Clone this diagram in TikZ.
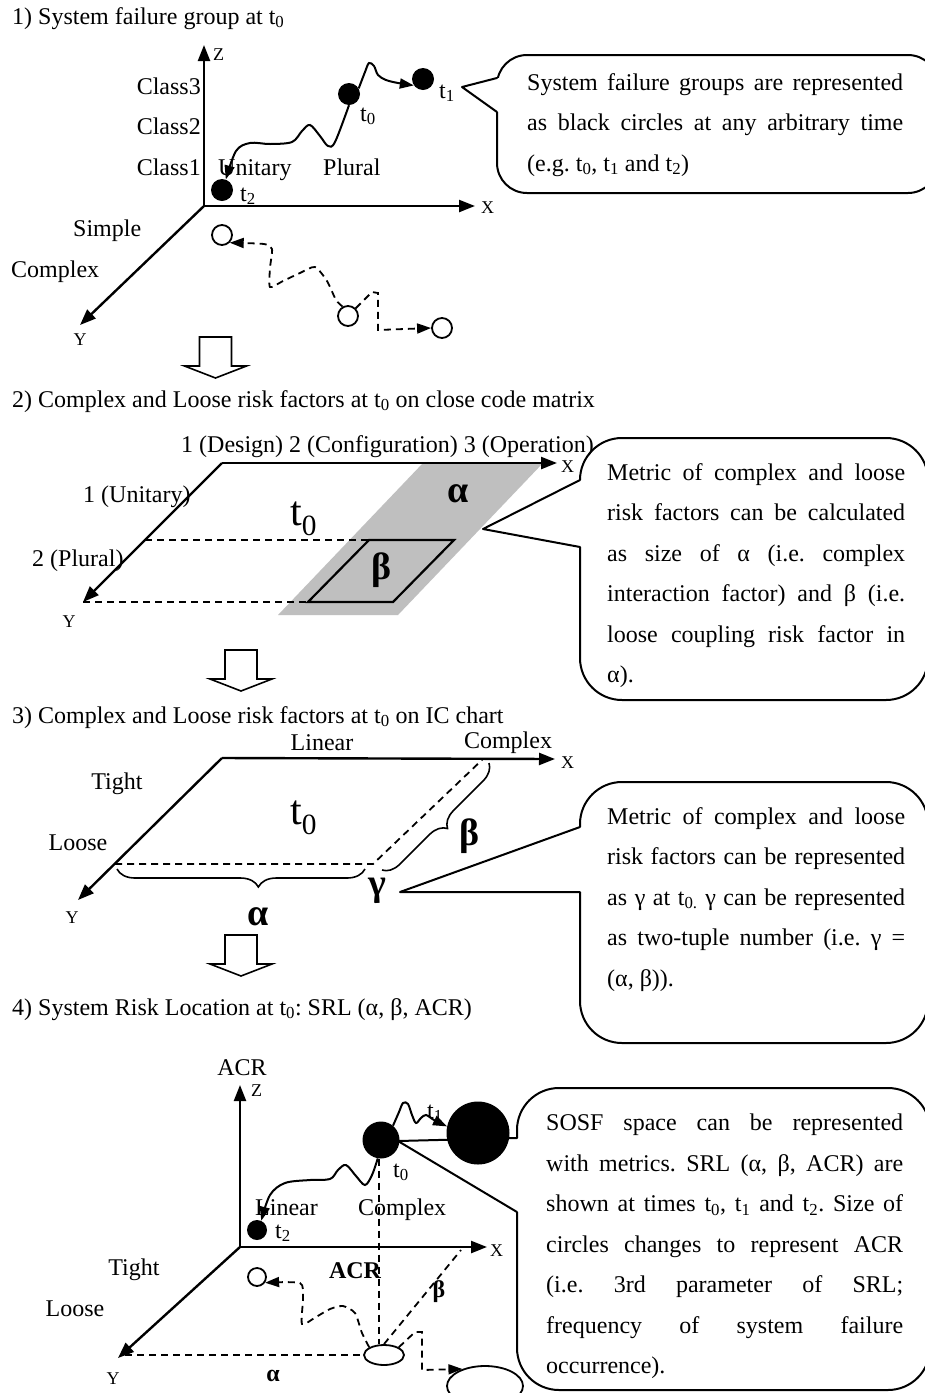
\documentclass[tikz,border=0pt]{standalone}
\usepackage{fontspec}
\setmainfont{Liberation Serif}
\usetikzlibrary{shapes.geometric, arrows.meta, decorations.pathreplacing}

\newcommand{\fitline}[2]{\makebox[#1][s]{#2}}
\frenchspacing

\begin{document}
\begin{tikzpicture}[
    x=1pt, y=-1pt,
    lbl/.style={font=\fontsize{24}{29}\selectfont, inner sep=0pt},
    axlbl/.style={font=\fontsize{18}{22}\selectfont, inner sep=0pt},
    bigt/.style={font=\fontsize{42}{50}\selectfont, inner sep=0pt},
    greek/.style={font=\fontsize{38}{44}\selectfont\bfseries, inner sep=0pt},
    smallgreek/.style={font=\fontsize{24}{29}\selectfont\bfseries, inner sep=0pt},
    note/.style={font=\fontsize{24}{40.5}\selectfont, inner sep=0pt, align=left, anchor=north west},
    callout/.style={draw, line width=2pt, fill=white, rounded corners=42pt, inner sep=0pt},
    pointer/.style={line width=2pt, line cap=round, line join=round},
    axis/.style={line width=2.4pt, -{Triangle[length=16pt,width=12pt]}},
    edge/.style={line width=2.2pt},
    dline/.style={line width=1.8pt, dash pattern=on 7pt off 5pt},
    wave/.style={line width=2pt, -{Triangle[length=14pt,width=10pt]}},
    dwave/.style={dline, -{Triangle[length=14pt,width=10pt]}},
    curly/.style={decorate, line width=1.6pt},
    blob/.style={circle, fill=black, inner sep=0pt},
    hollow/.style={circle, draw, fill=white, line width=1.8pt, inner sep=0pt},
    shadow/.style={ellipse, draw, fill=white, line width=1.8pt, inner sep=0pt},
    pics/downarrow/.style={code={
        \draw[line width=1.6pt, fill=white] (-16,0) -- (16,0) -- (16,29) -- (31,29)
            -- (0,41) -- (-31,29) -- (-16,29) -- cycle;}}
]
    \useasboundingbox (0,0) rectangle (925,1393);
    \fill[white] (0,0) rectangle (925,1393);
    \clip (0,0) rectangle (925,1393);

    % Callout boxes
    \node[callout, rounded corners=30pt, minimum width=441pt, minimum height=138pt] (c1) at (717.5,124) {};
    \node[callout, minimum width=348pt, minimum height=262pt] (c2) at (754,569) {};
    \node[callout, minimum width=348pt, minimum height=261pt] (c3) at (754,912.5) {};
    \node[callout, minimum width=413pt, minimum height=302pt] (c4) at (723.5,1239) {};

    % Callout pointers
    \coordinate (c1tip) at (462,87);  \coordinate (c1a) at (497,78);   \coordinate (c1b) at (497,112);
    \coordinate (c2tip) at (483,529); \coordinate (c2a) at (580,480);  \coordinate (c2b) at (580,547);
    \coordinate (c3tip) at (400,892); \coordinate (c3a) at (580,827);  \coordinate (c3b) at (580,892);
    \coordinate (c4tip) at (398,1141); \coordinate (c4a) at (517,1138); \coordinate (c4b) at (517,1212);
    \foreach \c in {c1,c2,c3,c4} {
        \fill[white] ([xshift=-1.4pt]\c a) rectangle ([xshift=4pt]\c b);
        \draw[pointer] (\c a) -- (\c tip) -- (\c b);
    }

    % Callout texts
    \node[note] (c1text) at (527,73) {\fitline{376pt}{System failure groups are represented}\\
        \fitline{376pt}{as black circles at any arbitrary time}\\
        (e.g. t\textsubscript{0}, t\textsubscript{1} and t\textsubscript{2})};
    \node[note] (c2text) at (607,463) {\fitline{298pt}{Metric of complex and loose}\\
        \fitline{298pt}{risk factors can be calculated}\\
        \fitline{298pt}{as size of α (i.e. complex}\\
        \fitline{298pt}{interaction factor) and β (i.e.}\\
        \fitline{298pt}{loose coupling risk factor in}\\
        α).};
    \node[note] (c3text) at (607,807) {\fitline{298pt}{Metric of complex and loose}\\
        \fitline{298pt}{risk factors can be represented}\\
        \fitline{298pt}{as γ at t\textsubscript{0.} γ can be represented}\\
        \fitline{298pt}{as two-tuple number (i.e. γ =}\\
        (α, β)).};
    \node[note] (c4text) at (546,1114) {\fitline{357pt}{SOSF space can be represented}\\
        \fitline{357pt}{with metrics. SRL (α, β, ACR) are}\\
        \fitline{357pt}{shown at times t\textsubscript{0}, t\textsubscript{1} and t\textsubscript{2}. Size of}\\
        \fitline{357pt}{circles changes to represent ACR}\\
        \fitline{357pt}{(i.e. 3rd parameter of SRL;}\\
        \fitline{357pt}{frequency of system failure}\\
        occurrence).};

    % ---- 1) System failure group
    \node[lbl, anchor=base west] (title1) at (12,24) {1) System failure group at t\textsubscript{0}};
    \coordinate (o1) at (204,206);
    \coordinate (z1) at (204,45);
    \coordinate (x1) at (475,206);
    \coordinate (y1) at (80,325);
    \draw[axis] (o1) -- (z1);
    \draw[axis] (o1) -- (x1);
    \draw[axis] (o1) -- (y1);
    \node[axlbl, anchor=base west] at (213,60) {Z};
    \node[axlbl, anchor=base west] at (481,213) {X};
    \node[axlbl, anchor=base] at (80,345) {Y};
    \node[lbl, anchor=base east] at (201,94) {Class3};
    \node[lbl, anchor=base east] at (201,134) {Class2};
    \node[lbl, anchor=base east] at (201,175) {Class1};
    \node[lbl, anchor=base west] at (218,175) {Unitary};
    \node[lbl, anchor=base west] at (323,175) {Plural};
    \node[lbl, anchor=base west] at (73,236) {Simple};
    \node[lbl, anchor=base west] at (11,277) {Complex};

    \node[blob, minimum size=22pt] (p1t2) at (222,190) {};
    \node[blob, minimum size=22pt] (p1t0) at (349,94) {};
    \node[blob, minimum size=22pt] (p1t1) at (423,79) {};
    \node[lbl, anchor=base west] at (240,201) {t\textsubscript{2}};
    \node[lbl, anchor=base west] at (360,121) {t\textsubscript{0}};
    \node[lbl, anchor=base west] at (439,98) {t\textsubscript{1}};
    \draw[wave] plot[smooth, tension=0.55] coordinates {(p1t0.south) (335,142) (328,146) (320,136)
        (310,125) (302,131) (292,142) (270,144) (250,143) (236,151) (p1t2.70)};
    \draw[wave] plot[smooth, tension=0.55] coordinates {(p1t0.30) (365,72) (369,63) (374,66)
        (378,75) (386,80) (398,83) (p1t1.215)};

    \node[hollow, minimum size=20pt] (s1a) at (222,235) {};
    \node[hollow, minimum size=20pt] (s1b) at (348,316) {};
    \node[hollow, minimum size=20pt] (s1c) at (442,328) {};
    \draw[dwave] plot[smooth, tension=0.4] coordinates {(s1b.120) (336,300) (327,281) (315,267)
        (300,273) (283,281) (270,287) (270,268) (272,249) (264,244) (s1a.-45)};
    \draw[dwave] (s1b.45) -- (372,292) -- (378,293) -- (378,330) -- (s1c.west);

    \pic at (215.5,337) {downarrow};

    % ---- 2) close code matrix
    \node[lbl, anchor=base west] (title2) at (12,407) {2) Complex and Loose risk factors at t\textsubscript{0} on close code matrix};
    \coordinate (p2) at (222,463);
    \coordinate (x2) at (557,463);
    \coordinate (y2) at (83,602);
    \coordinate (bt1) at (369,540);
    \coordinate (bt2) at (454,540);
    \coordinate (bb2) at (393,602);
    \coordinate (bb1) at (308,602);
    \fill[black!25] (423,463) -- (543,463) -- (398,615) -- (278,615) -- cycle;
    \draw[dline] (145,540) -- (bt1);
    \draw[dline] (y2) -- (bb1);
    \draw[edge] (bb1) -- (bt1) -- (bt2) -- (bb2) -- cycle;
    \draw[axis] (p2) -- (x2);
    \draw[axis] (p2) -- (y2);
    \node[axlbl, anchor=base west] at (561,472) {X};
    \node[axlbl, anchor=base] at (69,627) {Y};
    \node[lbl, anchor=base west] at (181,452) {1 (Design) 2 (Configuration) 3 (Operation)};
    \node[lbl, anchor=base west] at (83,502) {1 (Unitary)};
    \node[lbl, anchor=base west] at (32,566) {2 (Plural)};
    \node[bigt, anchor=base west] at (290,525) {t\textsubscript{0}};
    \node[greek] at (458,494) {α};
    \node[greek] at (382,570) {β};

    \pic at (241,650) {downarrow};

    % ---- 3) IC chart
    \node[lbl, anchor=base west] (title3) at (12,723) {3) Complex and Loose risk factors at t\textsubscript{0} on IC chart};
    \coordinate (p3) at (222,758);
    \coordinate (x3) at (555,759);
    \coordinate (y3) at (78,900);
    \coordinate (g3) at (373,864);
    \draw[dline] (115,864) -- (g3) -- (483,759);
    \draw[curly, decoration={brace, amplitude=18pt, aspect=0.43}] (365,869) -- (117,869);
    \draw[curly, decoration={brace, amplitude=17pt}] (489,763) -- (382,870);
    \draw[axis] (p3) -- (x3);
    \draw[axis] (p3) -- (y3);
    \node[axlbl, anchor=base west] at (561,768) {X};
    \node[axlbl, anchor=base] at (72,923) {Y};
    \node[lbl, anchor=base] at (322,750) {Linear};
    \node[lbl, anchor=base] at (508,748) {Complex};
    \node[lbl, anchor=base] at (117,789) {Tight};
    \node[lbl, anchor=base] at (78,850) {Loose};
    \node[bigt, anchor=base west] at (290,824) {t\textsubscript{0}};
    \node[greek] at (258,917) {α};
    \node[greek] at (470,836) {β};
    \node[greek] at (377,891) {γ};

    \pic at (241,935) {downarrow};

    % ---- 4) System Risk Location
    \node[lbl, anchor=base west] (title4) at (12,1015) {4) System Risk Location at t\textsubscript{0}: SRL (α, β, ACR)};
    \coordinate (o4) at (240,1247);
    \coordinate (z4) at (240,1085);
    \coordinate (x4) at (487,1247);
    \coordinate (y4) at (118,1358);
    \coordinate (ya4) at (125,1355);
    \coordinate (bx4) at (461,1250);
    \node[shadow, minimum width=40pt, minimum height=20pt] (e0) at (384,1355) {};
    \node[shadow, minimum width=76pt, minimum height=40pt] (e1) at (485,1386) {};
    \node[hollow, minimum size=18pt] (s4) at (257,1277) {};
    \node[blob, minimum size=20pt] (p4t2) at (257,1230) {};
    \node[blob, minimum size=37pt] (p4t0) at (381,1140) {};
    \node[blob, minimum size=63pt] (p4t1) at (478,1133) {};

    \draw[dline] (ya4) -- (e0.west);
    \draw[dline] (p4t0.265) -- (p4t0.265 |- e0.north);
    \draw[dline] (e0.north) -- (bx4);
    \draw[dwave] plot[smooth, tension=0.4] coordinates {(e0.north west) (362,1333) (355,1313) (343,1306)
        (330,1309) (316,1317) (302,1324) (303,1298) (300,1283) (s4.-35)};
    \draw[dwave] (e0.north east) -- (415,1332) -- (422,1332) -- (422,1370) -- (e1.143);

    \draw[wave] plot[smooth, tension=0.55] coordinates {(p4t0.260) (372,1175) (365,1185) (356,1176)
        (346,1165) (338,1170) (330,1179) (310,1180) (285,1183) (270,1195) (p4t2.65)};
    \draw[wave] plot[smooth, tension=0.55] coordinates {(p4t0.50) (399,1112) (403,1103) (408,1104)
        (412,1115) (416,1123) (421,1118) (426,1115) (434,1120) (p4t1.168)};

    \draw[axis] (o4) -- (z4);
    \draw[axis] (o4) -- (x4);
    \draw[axis] (o4) -- (y4);
    \node[lbl, anchor=base] at (242,1075) {ACR};
    \node[axlbl, anchor=base west] at (251,1096) {Z};
    \node[axlbl, anchor=base west] at (490,1256) {X};
    \node[axlbl, anchor=base] at (113,1384) {Y};
    \node[lbl, anchor=base] at (134,1275) {Tight};
    \node[lbl, anchor=base] at (75,1316) {Loose};
    \node[lbl, anchor=base west] at (255,1215) {Linear};
    \node[lbl, anchor=base west] at (358,1215) {Complex};
    \node[lbl, anchor=base west] at (275,1238) {t\textsubscript{2}};
    \node[lbl, anchor=base west] at (393,1177) {t\textsubscript{0}};
    \node[lbl, anchor=base west] at (427,1118) {t\textsubscript{1}};
    \node[smallgreek, anchor=base] at (355,1278) {ACR};
    \node[smallgreek] at (439,1292) {β};
    \node[smallgreek] at (273,1376) {α};
\end{tikzpicture}
\end{document}
